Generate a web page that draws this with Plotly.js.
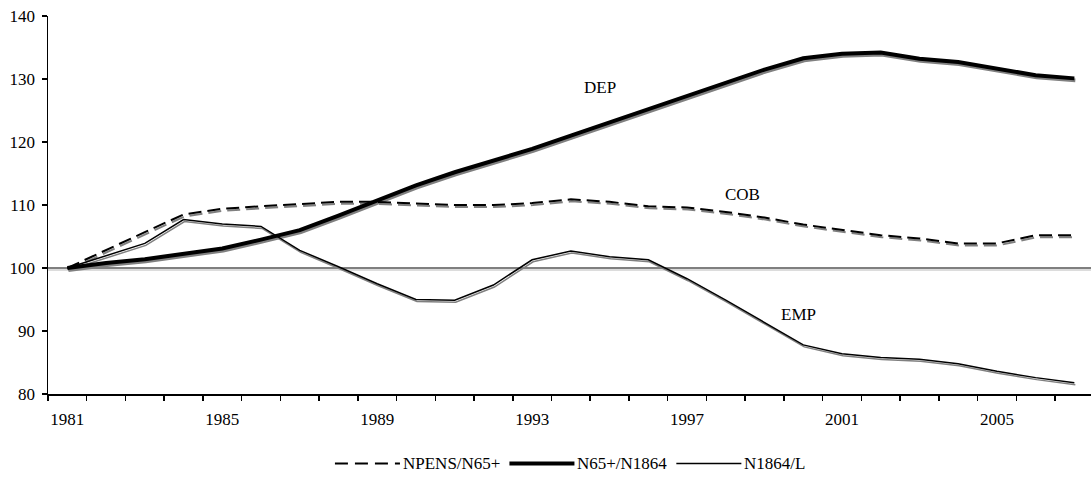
<!DOCTYPE html>
<html><head><meta charset="utf-8">
<script src="https://cdn.plot.ly/plotly-3.0.1.min.js"></script>
<style>html,body{margin:0;padding:0;background:#fff}#chart{width:1091px;height:478px}</style>
</head><body><div id="chart"></div>
<script>
// ---- data ----
const years = [1981,1982,1983,1984,1985,1986,1987,1988,1989,1990,1991,1992,1993,1994,1995,1996,1997,1998,1999,2000,2001,2002,2003,2004,2005,2006,2007];
const cob = [100,102.9,105.7,108.5,109.4,109.8,110.2,110.5,110.5,110.2,110.0,110.0,110.3,110.9,110.5,109.8,109.6,108.9,108.0,106.9,106.0,105.2,104.7,103.9,103.9,105.2,105.2];
const dep = [100,100.8,101.4,102.2,103.1,104.5,106.0,108.3,110.7,113.1,115.2,117.0,118.9,121.0,123.1,125.2,127.4,129.5,131.5,133.3,134.0,134.2,133.2,132.7,131.7,130.6,130.1];
const emp = [100,102.0,103.9,107.7,107.0,106.6,102.8,100.2,97.5,95.0,94.9,97.3,101.3,102.7,101.8,101.3,98.3,94.9,91.4,87.8,86.4,85.8,85.5,84.8,83.6,82.6,81.8];
const seriesNames = ['NPENS/N65+','N65+/N1864','N1864/L'];
const seriesTags = ['COB','DEP','EMP'];
const tickYears = [1981,1985,1989,1993,1997,2001,2005];
const yTicks = [80,90,100,110,120,130,140];
const baseline = 100;

// ---- geometry ----
const W=1091,H=478,L=48.3,R=0,T=15.7,B=83.7;
const xr=[1980.5,2007.43], yr=[80,140];
const PW=W-L-R, PH=H-T-B;
const pxX=(xr[1]-xr[0])/PW, pxY=(yr[1]-yr[0])/PH;
const sdx=1, sdy=2;
const xrS=[xr[0]-sdx*pxX, xr[1]-sdx*pxX];
const yrS=[yr[0]+sdy*pxY, yr[1]+sdy*pxY];

const FS=17;
const FONT='"Liberation Serif","Times New Roman",serif';
const gray='rgb(128,128,128)';
const data=[cob,dep,emp];
const styles=[{width:2,dash:'13px,6px'},{width:4,dash:'solid'},{width:1.5,dash:'solid'}];

const traces=[];
data.forEach((d,i)=>traces.push({x:years,y:d,type:'scatter',mode:'lines',xaxis:'x',yaxis:'y',
  line:{color:gray,width:styles[i].width,dash:styles[i].dash},showlegend:false,hoverinfo:'skip'}));
data.forEach((d,i)=>traces.push({x:years,y:d,type:'scatter',mode:'lines',xaxis:'x2',yaxis:'y2',name:seriesNames[i],
  line:{color:'black',width:styles[i].width,dash:styles[i].dash},showlegend:false}));

const tagPos=[[1998.44,111.7],[1994.75,128.65],[1999.88,92.57]];
const annotations=seriesTags.map((t,i)=>({text:t,x:tagPos[i][0],y:tagPos[i][1],xref:'x2',yref:'y2',showarrow:false,
  font:{family:FONT,size:FS,color:'black'}}));

const shapes=[
  {type:'line',xref:'paper',yref:'y',x0:0,x1:1,y0:baseline,y1:baseline,line:{color:'rgb(185,185,185)',width:1},layer:'below'},
  {type:'line',xref:'paper',yref:'y2',x0:0,x1:1,y0:baseline,y1:baseline,line:{color:'black',width:1},layer:'below'}
];

// ---- custom legend with long line samples ----
const ctx=document.createElement('canvas').getContext('2d');
ctx.font=FS+'px "Liberation Serif"';
const legY=(H-B-464)/PH, lineLen=65, txtGap=3, itemGap=9, legCenter=570.5;
const widths=seriesNames.map(n=>ctx.measureText(n).width);
const total=widths.reduce((a,w)=>a+w,0)+3*(lineLen+txtGap)+2*itemGap;
let cur=legCenter-total/2;
const toPaper=p=>(p-L)/PW;
seriesNames.forEach((n,i)=>{
  shapes.push({type:'line',xref:'paper',yref:'paper',x0:toPaper(cur),x1:toPaper(cur+lineLen),y0:legY,y1:legY,
    line:{color:'black',width:styles[i].width,dash:styles[i].dash==='solid'?'solid':'13px,7px'}});
  annotations.push({text:n,xref:'paper',yref:'paper',x:toPaper(cur+lineLen+txtGap-2),y:legY,xanchor:'left',yanchor:'middle',
    showarrow:false,font:{family:FONT,size:FS,color:'black'}});
  cur+=lineLen+txtGap+widths[i]+itemGap;
});

const layout={
  width:W,height:H,margin:{l:L,r:R,t:T,b:B,pad:0},
  paper_bgcolor:'white',plot_bgcolor:'white',
  font:{family:FONT,size:FS,color:'black'},
  xaxis:{visible:false,range:xrS,fixedrange:true},
  yaxis:{visible:false,range:yrS,fixedrange:true},
  xaxis2:{overlaying:'x',anchor:'y2',side:'bottom',range:xr,fixedrange:true,
    tickmode:'array',tickvals:tickYears,ticktext:tickYears.map(String),ticks:'',
    showline:true,linecolor:'black',linewidth:1.5,showgrid:false,zeroline:false,
    ticklabelstandoff:9,
    minor:{ticks:'outside',tickmode:'linear',tick0:1980.5,dtick:1,ticklen:5,tickwidth:1.5,tickcolor:'black',showgrid:false},
    tickfont:{family:FONT,size:FS,color:'black'}},
  yaxis2:{overlaying:'y',anchor:'x2',side:'left',range:yr,fixedrange:true,
    tickmode:'array',tickvals:yTicks,ticks:'outside',ticklen:5,tickwidth:1.5,tickcolor:'black',
    showline:true,linecolor:'black',linewidth:1.5,showgrid:false,zeroline:false,ticklabelstandoff:3,
    tickfont:{family:FONT,size:FS,color:'black'}},
  shapes:shapes,
  annotations:annotations,
  showlegend:false
};
Plotly.newPlot('chart',traces,layout,{displayModeBar:false,staticPlot:true});
</script></body></html>
